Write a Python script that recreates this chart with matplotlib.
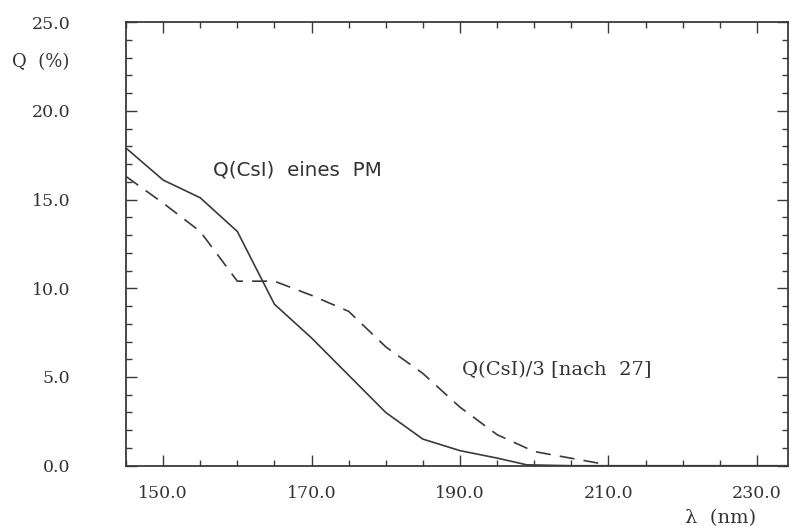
import matplotlib
matplotlib.use("Agg")
import matplotlib.pyplot as plt
from matplotlib.ticker import MultipleLocator

# Q(CsI) eines PM (solid)
wl_pm = [145, 150, 155, 160, 165, 170, 175, 180, 185, 190, 195, 199, 205, 234]
q_pm = [17.9, 16.1, 15.1, 13.2, 9.1, 7.2, 5.1, 3.0, 1.5, 0.85, 0.43, 0.05, 0.0, 0.0]

# Q(CsI)/3 nach 27 (dashed)
wl_ref = [145, 150, 155, 160, 165, 170, 175, 180, 185, 190, 195, 200, 205, 209]
q_ref = [16.3, 14.8, 13.2, 10.4, 10.4, 9.6, 8.7, 6.7, 5.2, 3.3, 1.75, 0.8, 0.42, 0.12]

xticks = [150, 170, 190, 210, 230]
yticks = [0, 5, 10, 15, 20, 25]

plt.rcParams['font.family'] = ['DejaVu Serif']
ink = '#3a3a3a'
W, H = 791, 526

fig = plt.figure(figsize=(7.91, 5.26), dpi=100)
ax = fig.add_axes([0.1593, 0.1146, 0.8369, 0.8434])

ax.plot(wl_pm, q_pm, color=ink, lw=1.2, solid_joinstyle='miter')
ax.plot(wl_ref, q_ref, color=ink, lw=1.2, dashes=(9, 5.5))

ax.set_xlim(145, 234.2)
ax.set_ylim(0, 25)
ax.set_xticks(xticks)
ax.set_xticklabels(['%.1f' % v for v in xticks])
ax.set_yticks(yticks)
ax.set_yticklabels(['%.1f' % v for v in yticks])
ax.xaxis.set_minor_locator(MultipleLocator(5))
ax.yaxis.set_minor_locator(MultipleLocator(1))

ax.tick_params(which='both', direction='in', top=True, right=True, color=ink, width=1.0)
ax.tick_params(which='major', length=8)
ax.tick_params(which='minor', length=4)
ax.tick_params(axis='x', which='major', pad=14, labelsize=12.5, labelcolor='#333')
ax.tick_params(axis='y', which='major', pad=40, labelsize=12.5, labelcolor='#333')
for s in ax.spines.values():
    s.set_color(ink)
    s.set_linewidth(1.3)

fig.text(12 / W, 1 - 62 / H, 'Q  (%)', fontsize=13, color='#333', va='center', ha='left')
fig.text(721 / W, 1 - 518 / H, 'λ  (nm)', fontsize=14, color='#333', va='center', ha='center')

fig.text(213 / W, 1 - 170 / H, 'Q(CsI)  eines  PM', fontsize=14.3, color='#333',
         va='center', ha='left', family='DejaVu Sans')
fig.text(462 / W, 1 - 370 / H, 'Q(CsI)/3 [nach  27]', fontsize=14, color='#333',
         va='center', ha='left')

fig.savefig('out.png', dpi=100)
